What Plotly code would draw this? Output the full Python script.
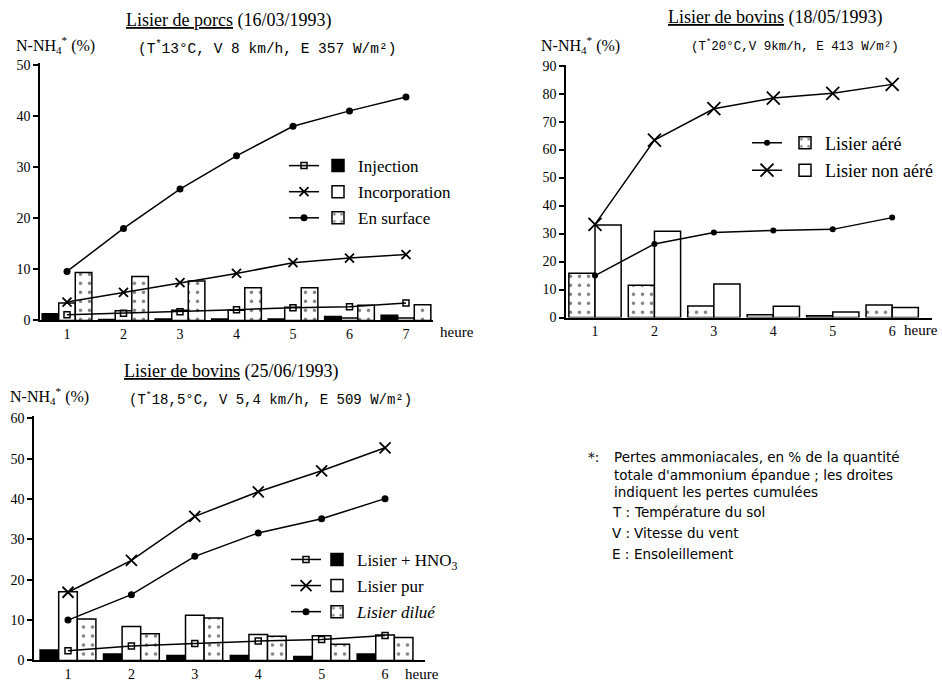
import plotly.graph_objects as go

# ---------------- data ----------------
hours1 = [1, 2, 3, 4, 5, 6, 7]
p1_injection_bar = [1.3, 0.2, 0.3, 0.3, 0.3, 0.8, 1.0]
p1_incorp_bar = [3.4, 1.9, 2.0, 2.0, 2.6, 0.5, 0.5]
p1_surface_bar = [9.4, 8.6, 7.7, 6.4, 6.4, 3.0, 3.1]
p1_injection_line = [1.1, 1.4, 1.7, 2.1, 2.5, 2.7, 3.4]
p1_incorp_line = [3.6, 5.5, 7.4, 9.2, 11.3, 12.2, 12.9]
p1_surface_line = [9.6, 18.0, 25.7, 32.2, 38.0, 41.0, 43.7]

hours2 = [1, 2, 3, 4, 5, 6]
p2_aere_bar = [15.8, 11.5, 4.1, 1.0, 0.6, 4.5]
p2_nonaere_bar = [33.1, 30.8, 12.0, 4.0, 2.0, 3.6]
p2_aere_line = [15.0, 26.3, 30.4, 31.1, 31.5, 35.7]
p2_nonaere_line = [33.3, 63.4, 74.6, 78.4, 80.1, 83.3]

hours3 = [1, 2, 3, 4, 5, 6]
p3_hno3_bar = [2.6, 1.6, 1.2, 1.2, 1.0, 1.6]
p3_pur_bar = [17.0, 8.4, 11.2, 6.4, 6.1, 6.3]
p3_dilue_bar = [10.3, 6.6, 10.5, 6.0, 4.0, 5.7]
p3_hno3_line = [2.4, 3.6, 4.2, 4.8, 5.2, 6.2]
p3_pur_line = [16.9, 24.8, 35.7, 41.8, 47.0, 52.7]
p3_dilue_line = [10.0, 16.3, 25.8, 31.6, 35.1, 40.1]

ticks1 = [0, 10, 20, 30, 40, 50]
ticks2 = [0, 10, 20, 30, 40, 50, 60, 70, 80, 90]
ticks3 = [0, 10, 20, 30, 40, 50, 60]

note_lines = ["Pertes ammoniacales, en % de la quantité",
              "totale d'ammonium épandue ; les droites",
              "indiquent les pertes cumulées"]
note_keys = ["T :", "V :", "E :"]
note_defs = ["Température du sol", "Vitesse du vent", "Ensoleillement"]

# ---------------- style ----------------
W, H = 942, 690
SERIF = "Liberation Serif"
MONO = "Liberation Mono"
SANS = "DejaVu Sans"
BLK = "black"


def px(x):
    return x / W


def py(y):
    return 1 - y / H


dots = dict(shape=".", fgcolor=BLK, bgcolor="white", size=9, solidity=0.12)


def bar(x, y, kind, name, xa, ya, leg):
    if kind == "black":
        marker = dict(color=BLK, line=dict(color=BLK, width=1.5))
    elif kind == "white":
        marker = dict(color="white", line=dict(color=BLK, width=1.5))
    else:
        marker = dict(color="white", line=dict(color=BLK, width=1.5), pattern=dots)
    return go.Bar(x=x, y=y, name=name, marker=marker, xaxis=xa, yaxis=ya,
                  legend=leg, legendgroup=name)


def line(x, y, symbol, size, xa, ya, leg, grp):
    if symbol == "x-thin":
        mk = dict(symbol="x-thin", size=size, color=BLK, line=dict(color=BLK, width=1.8))
    elif symbol == "square-open":
        mk = dict(symbol="square-open", size=size, color=BLK, line=dict(color=BLK, width=1.5))
    else:
        mk = dict(symbol="circle", size=size, color=BLK)
    return go.Scatter(x=x, y=y, mode="lines+markers", name="\u00a0",
                      line=dict(color=BLK, width=1.5), marker=mk,
                      xaxis=xa, yaxis=ya, legend=leg, legendgroup=grp + "_l")


fig = go.Figure()

# panel 1
fig.add_trace(bar(hours1, p1_injection_bar, "black", "Injection", "x", "y", "legend"))
fig.add_trace(bar(hours1, p1_incorp_bar, "white", "Incorporation", "x", "y", "legend"))
fig.add_trace(bar(hours1, p1_surface_bar, "dots", "En surface", "x", "y", "legend"))
fig.add_trace(line(hours1, p1_injection_line, "square-open", 6, "x", "y", "legend2", "Injection"))
fig.add_trace(line(hours1, p1_incorp_line, "x-thin", 9, "x", "y", "legend2", "Incorporation"))
fig.add_trace(line(hours1, p1_surface_line, "circle", 7, "x", "y", "legend2", "En surface"))

# panel 2
fig.add_trace(bar(hours2, p2_aere_bar, "dots", "Lisier aéré", "x2", "y2", "legend3"))
fig.add_trace(bar(hours2, p2_nonaere_bar, "white", "Lisier non aéré", "x2", "y2", "legend3"))
fig.add_trace(line(hours2, p2_aere_line, "circle", 6, "x2", "y2", "legend4", "aere"))
fig.add_trace(line(hours2, p2_nonaere_line, "x-thin", 13, "x2", "y2", "legend4", "nonaere"))

# panel 3
fig.add_trace(bar(hours3, p3_hno3_bar, "black", "Lisier + HNO<sub>3</sub>", "x3", "y3", "legend5"))
fig.add_trace(bar(hours3, p3_pur_bar, "white", "Lisier pur", "x3", "y3", "legend5"))
fig.add_trace(bar(hours3, p3_dilue_bar, "dots", "<i>Lisier dilué</i>", "x3", "y3", "legend5"))
fig.add_trace(line(hours3, p3_hno3_line, "square-open", 6, "x3", "y3", "legend6", "hno3"))
fig.add_trace(line(hours3, p3_pur_line, "x-thin", 11, "x3", "y3", "legend6", "pur"))
fig.add_trace(line(hours3, p3_dilue_line, "circle", 7, "x3", "y3", "legend6", "dilue"))

tickfont = dict(family=SERIF, size=14, color=BLK)


def xaxis(domain, rng, tickvals, anchor):
    return dict(domain=domain, range=rng, tickvals=tickvals, showline=True,
                linecolor=BLK, linewidth=1.5, ticks="", showgrid=False,
                zeroline=False, tickfont=tickfont, anchor=anchor, fixedrange=True)


def yaxis(domain, rng, tickvals, anchor):
    return dict(domain=domain, range=rng, tickvals=tickvals, showline=True,
                linecolor=BLK, linewidth=1.5, ticks="outside", ticklen=5,
                tickwidth=1.5, tickcolor=BLK, showgrid=False, zeroline=False,
                tickfont=tickfont, anchor=anchor, fixedrange=True)


def leg(x, y, size=17):
    return dict(x=x, y=y, xanchor="left", yanchor="top",
                font=dict(family=SERIF, size=size, color=BLK),
                bgcolor="rgba(0,0,0,0)", borderwidth=0, traceorder="grouped",
                tracegroupgap=1, itemclick=False, itemdoubleclick=False)


fig.update_layout(
    width=W, height=H, margin=dict(l=0, r=0, t=0, b=0),
    paper_bgcolor="white", plot_bgcolor="white",
    barmode="group", bargap=0.12, bargroupgap=0,
    xaxis=xaxis([px(40), px(433)], [0.522, 7.478], hours1, "y"),
    yaxis=yaxis([py(321), py(58)], [0, 50.4], ticks1, "x"),
    xaxis2=xaxis([px(566), px(932)], [0.512, 6.67], hours2, "y2"),
    yaxis2=yaxis([py(318), py(60)], [0, 90.3], ticks2, "x2"),
    xaxis3=xaxis([px(34), px(425)], [0.464, 6.63], hours3, "y3"),
    yaxis3=yaxis([py(668), py(418)], [0, 60.7], ticks3, "x3"),
    legend=leg(px(318), py(145)),
    legend2=leg(px(284), py(145)),
    legend3=leg(px(785), py(121), 18),
    legend4=leg(px(747), py(121), 18),
    legend5=leg(px(317), py(547)),
    legend6=leg(px(286), py(547)),
    showlegend=True,
)


def ann(text, x, y, font, xanchor="left", yanchor="middle"):
    fig.add_annotation(text=text, x=px(x), y=py(y), xref="paper", yref="paper",
                       showarrow=False, font=font, xanchor=xanchor, yanchor=yanchor)


titlefont = dict(family=SERIF, size=18, color=BLK)
labfont = dict(family=SERIF, size=16, color=BLK)
heurefont = dict(family=SERIF, size=15, color=BLK)

# panel 1 texts
ann("<u>Lisier de porcs</u> (16/03/1993)", 124, 15, titlefont)
ann("(T<sup>*</sup>13°C, V 8 km/h, E 357 W/m²)", 136, 43, dict(family=MONO, size=14.5, color=BLK))
ann("N-NH<sub>4</sub><sup>*</sup> (%)", 14, 40, labfont)
ann("heure", 438, 333, heurefont)

# panel 2 texts
ann("<u>Lisier de bovins</u> (18/05/1993)", 666, 12, titlefont)
ann("(T<sup>*</sup>20°C,V 9km/h, E 413 W/m²)", 689, 41, dict(family=MONO, size=12.5, color=BLK))
ann("N-NH<sub>4</sub><sup>*</sup> (%)", 539, 40, labfont)
ann("heure", 902, 331, heurefont)

# panel 3 texts
ann("<u>Lisier de bovins</u> (25/06/1993)", 122, 373, titlefont)
ann("(T<sup>*</sup>18,5°C, V 5,4 km/h, E 509 W/m²)", 127, 401, dict(family=MONO, size=14, color=BLK))
ann("N-NH<sub>4</sub><sup>*</sup> (%)", 8, 398, labfont)
ann("heure", 403, 682, heurefont)

# note block
notefont = dict(family=SANS, size=13.5, color=BLK)
ann("*:", 586, 460, notefont)
fig.add_annotation(text="<br>".join(note_lines), x=px(612), y=py(450), xref="paper",
                   yref="paper", showarrow=False, font=notefont, xanchor="left",
                   yanchor="top", align="left")
for i, (k, d) in enumerate(zip(note_keys, note_defs)):
    ann(k, 610, 516 + 21.5 * i, notefont)
    ann(d, 632, 516 + 21.5 * i, notefont)

fig.write_html("out.html", config={"displayModeBar": False},
               post_script="document.body.style.margin='0';")
